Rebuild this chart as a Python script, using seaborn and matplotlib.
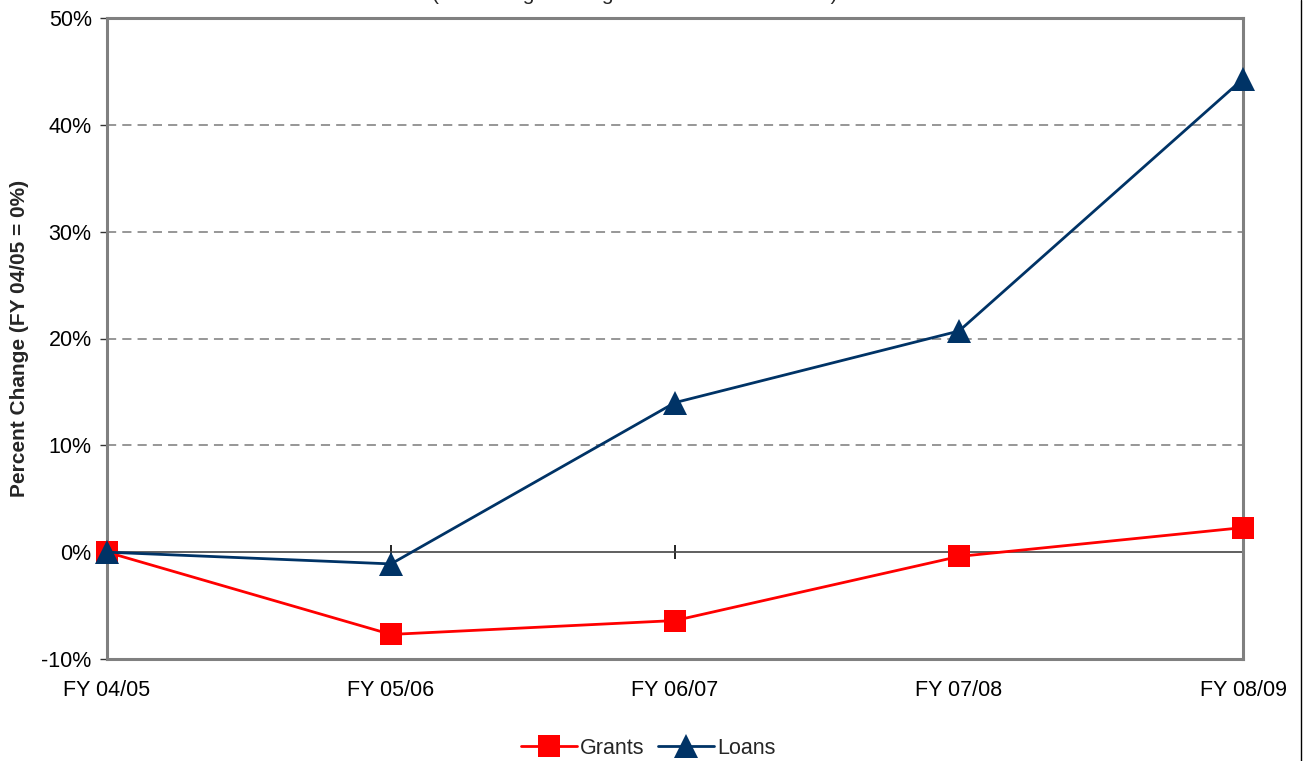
import matplotlib
matplotlib.use("Agg")
import matplotlib.pyplot as plt
from matplotlib.lines import Line2D
import seaborn as sns
import pandas as pd
from matplotlib.ticker import FuncFormatter

years = ["FY 04/05", "FY 05/06", "FY 06/07", "FY 07/08", "FY 08/09"]
grants = [0.0, -7.7, -6.4, -0.4, 2.3]
loans = [0.0, -1.1, 14.0, 20.7, 44.3]
yticks = [-10, 0, 10, 20, 30, 40, 50]

sns.set_theme(style="white")
plt.rcParams['font.family'] = ['Liberation Sans', 'DejaVu Sans']

fig = plt.figure(figsize=(13.04, 7.61), dpi=100)
ax = fig.add_axes([107/1304, 1-659/761, (1243-107)/1304, (659-18)/761])

df_g = pd.DataFrame({"year": years, "value": grants})
df_l = pd.DataFrame({"year": years, "value": loans})

sns.lineplot(data=df_g, x="year", y="value", ax=ax, color="#FF0000", lw=2.0,
             marker="s", markersize=15.5, markeredgewidth=0, clip_on=False,
             label="Grants", zorder=4)
sns.lineplot(data=df_l, x="year", y="value", ax=ax, color="#003366", lw=2.0,
             marker="^", markersize=17, markeredgewidth=0, clip_on=False,
             label="Loans", zorder=5)

ax.set_xlim(0, 4)
ax.set_ylim(-10, 50)
ax.set_yticks(yticks)
ax.yaxis.set_major_formatter(FuncFormatter(lambda v, p: f"{int(v)}%"))
ax.set_xticks(range(len(years)))
ax.set_xticklabels(years)

for y in yticks[2:-1]:
    ax.axhline(y, color="#7a7a7a", lw=1.1, dashes=(6, 4), zorder=1)
ax.axhline(0, color="#444444", lw=1.2, zorder=2)

for s in ax.spines.values():
    s.set_color("#808080")
    s.set_linewidth(2.2)
    s.set_visible(True)

ax.tick_params(axis="x", length=0, pad=15, labelsize=15.5, colors="black")
ax.tick_params(axis="y", direction="out", length=5, width=1.0, color="#333333",
               pad=6, labelsize=15.5, labelcolor="black", left=True)

sec = ax.secondary_xaxis(1/6)
sec.set_xticks(range(len(years)))
sec.set_xticklabels([""] * len(years))
sec.tick_params(axis="x", direction="inout", length=10, width=1.2, color="black")
sec.spines["bottom"].set_visible(False)

ax.set_xlabel("")
ax.set_ylabel("Percent Change (FY 04/05 = 0%)", fontsize=15, fontweight="bold")
ax.yaxis.set_label_coords(-0.0685, 0.5)

if ax.legend_:
    ax.legend_.remove()
handles, labels = ax.get_legend_handles_labels()
fig.legend(handles, labels, loc="center", bbox_to_anchor=(0.497, 1-748/761), ncol=2,
           frameon=False, fontsize=15.5, handlelength=2.6, handletextpad=0.15,
           columnspacing=0.6, borderaxespad=0)

fig.text(635/1304, 1.0, "(Percentage Change Relative to Base Year)", ha="center",
         va="baseline", fontsize=15)
fig.add_artist(Line2D([1301/1304, 1301/1304], [0, 1], color="black", lw=1.0,
                      transform=fig.transFigure))

fig.savefig("out.png", dpi=100)
